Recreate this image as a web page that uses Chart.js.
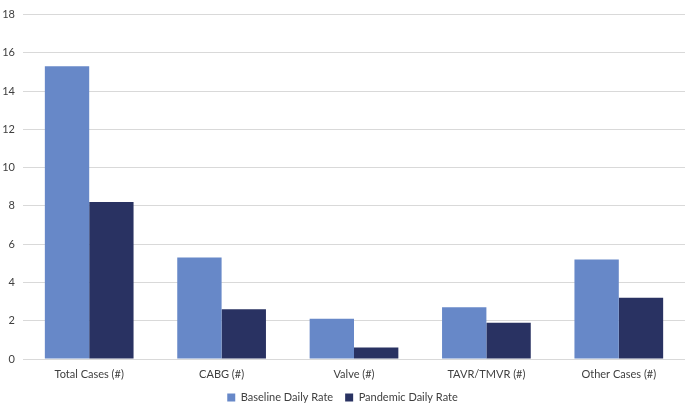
<!DOCTYPE html>
<html>
<head>
<meta charset="utf-8">
<script src="https://cdn.jsdelivr.net/npm/chart.js@4/dist/chart.umd.min.js"></script>
<style>
  html, body { margin: 0; padding: 0; background: #ffffff; }
  #wrap { width: 687px; height: 404px; }
</style>
</head>
<body>
<div id="wrap"><canvas id="chart"></canvas></div>
<script>
const categories = ['Total Cases (#)', 'CABG (#)', 'Valve (#)', 'TAVR/TMVR (#)', 'Other Cases (#)'];
const baselineRate = [15.3, 5.3, 2.1, 2.7, 5.2];
const pandemicRate = [8.2, 2.6, 0.6, 1.9, 3.2];

const font = { family: 'Lato, "Open Sans", sans-serif', size: 11 };

// keep the bottom legend short so the plot reaches down like the original
const legendHeight = {
    id: 'legendHeight',
    beforeLayout: (chart) => {
        const lg = chart.legend;
        if (!lg || lg._patched) return;
        const fit = lg.fit;
        lg.fit = function () { fit.call(this); this.height = 21; };
        lg._patched = true;
    },
    afterLayout: (chart) => {
        const lg = chart.legend;
        if (lg) { lg.top -= 3; lg.height += 3; }
    }
};

new Chart(document.getElementById('chart'), {
    type: 'bar',
    data: {
        labels: categories,
        datasets: [
            {
                label: 'Baseline Daily Rate',
                data: baselineRate,
                backgroundColor: '#6788c8'
            },
            {
                label: 'Pandemic Daily Rate',
                data: pandemicRate,
                backgroundColor: '#293262'
            }
        ]
    },
    options: {
        responsive: true,
        maintainAspectRatio: false,
        animation: false,
        layout: { padding: { top: 7, right: 2, left: 0, bottom: 0 } },
        datasets: {
            bar: { barPercentage: 1, categoryPercentage: 0.67 }
        },
        scales: {
            x: {
                grid: { display: false, drawTicks: false },
                border: { display: false },
                ticks: { color: '#404040', font: font, padding: 9, maxRotation: 0 },
                afterFit: (axis) => { axis.height = 24; }
            },
            y: {
                min: 0,
                max: 18,
                ticks: { stepSize: 2, color: '#404040', font: font, padding: 8 },
                grid: { color: '#d9d9d9', drawTicks: false },
                border: { display: false },
                afterFit: (axis) => { axis.width = 23; }
            }
        },
        plugins: {
            legend: {
                position: 'bottom',
                labels: {
                    color: '#404040',
                    font: font,
                    boxWidth: 8,
                    boxHeight: 8,
                    padding: 12
                }
            },
            tooltip: { enabled: false }
        }
    },
    plugins: [legendHeight]
});
</script>
</body>
</html>
